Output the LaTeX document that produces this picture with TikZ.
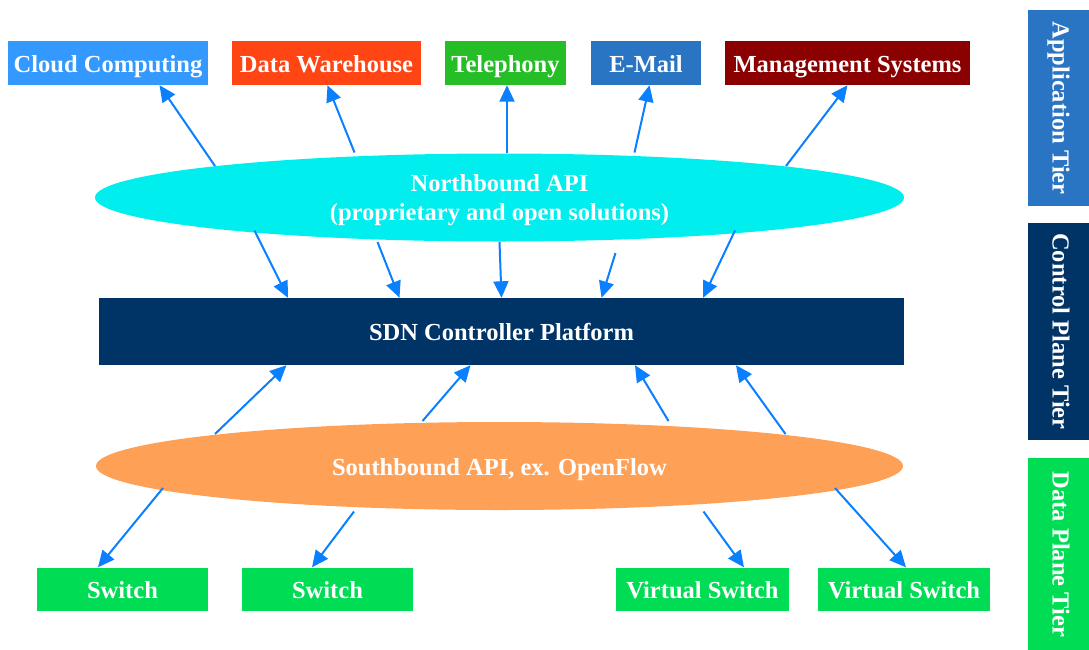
\documentclass[tikz,border=0pt]{standalone}
\usepackage{fontspec}
\setmainfont{Liberation Serif}
\usetikzlibrary{arrows.meta,shapes.geometric}

\definecolor{cloudblue}{RGB}{51,153,255}
\definecolor{dwred}{RGB}{255,69,20}
\definecolor{telgreen}{RGB}{38,190,38}
\definecolor{mailblue}{RGB}{42,116,196}
\definecolor{mgmtred}{RGB}{139,0,0}
\definecolor{nbcyan}{RGB}{0,238,238}
\definecolor{ctrlnavy}{RGB}{0,51,102}
\definecolor{sborange}{RGB}{255,160,87}
\definecolor{swgreen}{RGB}{0,221,85}
\definecolor{arrowblue}{RGB}{10,128,255}

\tikzset{
  lbl/.style={text=white, font=\fontsize{24.5}{28.3}\selectfont\bfseries},
  oneline/.style={lbl, text height=18pt, text depth=0pt},
  appbox/.style={oneline, rectangle, inner sep=0pt, minimum height=44pt},
  swbox/.style={oneline, rectangle, fill=swgreen, inner sep=0pt, minimum height=43pt},
  apiellipse/.style={ellipse, inner sep=0pt},
  tierbox/.style={lbl, text height=17pt, text depth=5pt, rectangle, inner sep=0pt,
    minimum height=61pt, rotate=-90},
  arr/.style={draw=arrowblue, line width=2pt, -{Triangle[length=16.5pt,width=15pt]}}
}

\begin{document}
\begin{tikzpicture}[x=1pt,y=-1pt]
\useasboundingbox (0,0) rectangle (1089,649);

% application tier
\node[appbox, fill=cloudblue, minimum width=200pt] (cloud) at (108,63) {Cloud Computing};
\node[appbox, fill=dwred, minimum width=189pt] (dw) at (326.5,63) {Data Warehouse};
\node[appbox, fill=telgreen, minimum width=121pt] (tel) at (505.5,63) {Telephony};
\node[appbox, fill=mailblue, minimum width=110pt] (mail) at (646,63) {E-Mail};
\node[appbox, fill=mgmtred, minimum width=245pt] (mgmt) at (847.5,63) {Management Systems};

% APIs and controller
\node[apiellipse, fill=nbcyan, minimum width=809pt, minimum height=88pt] (nb) at (499.5,197.5) {};
\node[lbl, align=center] (nbtext) at ([yshift=-2.5pt]nb.center)
  {Northbound API\\(proprietary and open solutions)};
\node[oneline, rectangle, fill=ctrlnavy, inner sep=0pt, minimum width=805pt, minimum height=67pt] (ctrl)
  at (501.5,331.5) {SDN Controller Platform};
\node[oneline, apiellipse, fill=sborange, minimum width=807pt, minimum height=88pt] (sb) at (499.5,466)
  {Southbound API, ex. OpenFlow};

% data plane
\node[swbox, minimum width=171pt] (sw1) at (122.5,589) {Switch};
\node[swbox, minimum width=171pt] (sw2) at (327.5,589) {Switch};
\node[swbox, minimum width=173pt] (vs1) at (702.5,589) {Virtual Switch};
\node[swbox, minimum width=172pt] (vs2) at (904,589) {Virtual Switch};

% tier labels
\node[tierbox, fill=mailblue, minimum width=196pt] (tapp) at (1058.5,108) {Application Tier};
\node[tierbox, fill=ctrlnavy, minimum width=217pt] (tctrl) at (1058.5,331.5) {Control Plane Tier};
\node[tierbox, fill=swgreen, minimum width=193pt] (tdata) at (1058.5,554.5) {Data Plane Tier};

% start points of the arrows on the two API ellipses
\coordinate (n1) at (215,166);
\coordinate (n2) at (354.5,152.5);
\coordinate (n3) at (507,152.5);
\coordinate (n4) at (634.5,152.5);
\coordinate (n5) at (786,166);
\coordinate (d1) at (254.5,230.5);
\coordinate (d2) at (377.5,242);
\coordinate (d3) at (499.5,242);
\coordinate (d4) at (615.5,253);
\coordinate (d5) at (735,230.5);
\coordinate (u1) at (215,434);
\coordinate (u2) at (422.5,421);
\coordinate (u3) at (668.5,421);
\coordinate (u4) at (785.5,434);
\coordinate (s1) at (163,488);
\coordinate (s2) at (354,511.5);
\coordinate (s3) at (703.5,511.5);
\coordinate (s4) at (835,488);

% northbound API to applications
\draw[arr] (n1) -- ([xshift=51.5pt]cloud.south);
\draw[arr] (n2) -- ([xshift=1pt]dw.south);
\draw[arr] (n3) -- ([xshift=1.5pt]tel.south);
\draw[arr] (n4) -- ([xshift=3.5pt]mail.south);
\draw[arr] (n5) -- ([xshift=0pt]mgmt.south);

% northbound API to controller
\draw[arr] (d1) -- ([xshift=-213.5pt]ctrl.north);
\draw[arr] (d2) -- ([xshift=-102pt]ctrl.north);
\draw[arr] (d3) -- ([xshift=0pt]ctrl.north);
\draw[arr] (d4) -- ([xshift=100pt]ctrl.north);
\draw[arr] (d5) -- ([xshift=201.5pt]ctrl.north);

% southbound API to controller
\draw[arr] (u1) -- ([xshift=-215pt]ctrl.south);
\draw[arr] (u2) -- ([xshift=-31pt]ctrl.south);
\draw[arr] (u3) -- ([xshift=133.5pt]ctrl.south);
\draw[arr] (u4) -- ([xshift=234.5pt]ctrl.south);

% southbound API to switches
\draw[arr] (s1) -- ([xshift=-24.5pt]sw1.north);
\draw[arr] (s2) -- ([xshift=-15.5pt]sw2.north);
\draw[arr] (s3) -- ([xshift=41.5pt]vs1.north);
\draw[arr] (s4) -- ([xshift=2pt]vs2.north);
\end{tikzpicture}
\end{document}
